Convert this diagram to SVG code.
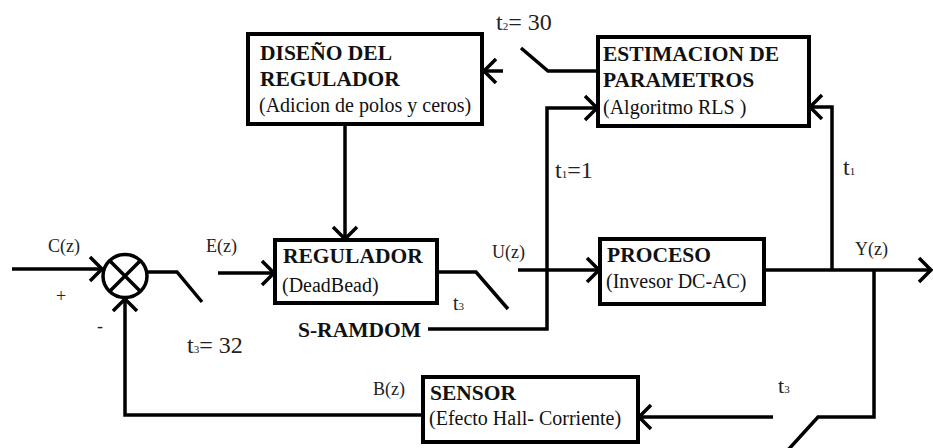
<svg xmlns="http://www.w3.org/2000/svg" width="933" height="448" viewBox="0 0 933 448">
<style>
.box{fill:#fff;stroke:#000;stroke-width:4}
.ln{fill:none;stroke:#000;stroke-width:3.5}
.b{font-family:"Liberation Serif",serif;font-weight:bold;font-size:21.5px;fill:#111}
.r{font-family:"Liberation Serif",serif;font-size:20px;fill:#111}
.lab{font-family:"Liberation Serif",serif;font-size:18px;fill:#222}
.t{font-family:"Liberation Serif",serif;font-size:24px;fill:#222}
.sub{font-size:11px}
</style>
<defs>
<marker id="ch" viewBox="0 0 16 28" refX="14" refY="14" markerWidth="16" markerHeight="28" markerUnits="userSpaceOnUse" orient="auto">
<path d="M2,2 L14,14 L2,26" fill="none" stroke="#000" stroke-width="3.5"/>
</marker>
</defs>
<rect width="933" height="448" fill="#fff"/>
<g id="connectors">
<path class="ln" d="M12,269 L102,269" marker-end="url(#ch)"/>
<path class="ln" d="M147,272 L177,272 L202,302"/>
<path class="ln" d="M218,273 L274,273" marker-end="url(#ch)"/>
<path class="ln" d="M345,124 L345,239" marker-end="url(#ch)"/>
<path class="ln" d="M437,272 L476,272 L508,309"/>
<path class="ln" d="M518,270 L599,270" marker-end="url(#ch)"/>
<path class="ln" d="M428,329 L547,329 L547,108 L597,108" marker-end="url(#ch)"/>
<path class="ln" d="M764,270 L931,270" marker-end="url(#ch)"/>
<path class="ln" d="M832,270 L832,107 L810,107" marker-end="url(#ch)"/>
<path class="ln" d="M598,71 L548,71 L521,48"/>
<path class="ln" d="M503,71 L484,71" marker-end="url(#ch)"/>
<path class="ln" d="M874,270 L874,417 L818,417 L788,450"/>
<path class="ln" d="M773,417 L639,417" marker-end="url(#ch)"/>
<path class="ln" d="M425,415 L125,415 L125,299" marker-end="url(#ch)"/>
</g>
<g id="sum">
<ellipse cx="125" cy="276" rx="22" ry="21.5" fill="none" stroke="#000" stroke-width="3.5"/>
<path class="ln" d="M109.5,260.5 L140.5,291.5 M140.5,260.5 L109.5,291.5"/>
</g>
<g id="diseno">
<rect class="box" x="248" y="34" width="234" height="90"/>
<text class="b" x="260" y="60">DISEÑO DEL</text>
<text class="b" x="260" y="86">REGULADOR</text>
<text class="r" x="259" y="112">(Adicion de polos y ceros)</text>
</g>
<g id="estimacion">
<rect class="box" x="598" y="37" width="211" height="89"/>
<text class="b" x="603" y="61">ESTIMACION DE</text>
<text class="b" x="603" y="87">PARAMETROS</text>
<text class="r" x="603" y="114">(Algoritmo RLS )</text>
</g>
<g id="regulador">
<rect class="box" x="275" y="240" width="162" height="63"/>
<text class="b" x="283" y="263">REGULADOR</text>
<text class="r" x="282" y="292">(DeadBead)</text>
</g>
<g id="proceso">
<rect class="box" x="600" y="239" width="164" height="65"/>
<text class="b" x="607" y="262">PROCESO</text>
<text class="r" x="606" y="288">(Invesor DC-AC)</text>
</g>
<g id="sensor">
<rect class="box" x="423" y="377" width="215" height="65"/>
<text class="b" x="430" y="400">SENSOR</text>
<text class="r" x="429" y="425">(Efecto Hall- Corriente)</text>
</g>
<g id="labels">
<text class="lab" x="48" y="252">C(z)</text>
<text class="lab" x="206" y="252">E(z)</text>
<text class="lab" x="492" y="258">U(z)</text>
<text class="lab" x="855" y="255">Y(z)</text>
<text class="lab" x="373" y="395">B(z)</text>
<text class="lab" x="56" y="302">+</text>
<text class="lab" x="97" y="332">-</text>
<text class="b" x="298" y="337">S-RAMDOM</text>
<text class="t" x="496" y="30">t<tspan class="sub">2</tspan>= 30</text>
<text class="t" x="555" y="178">t<tspan class="sub">1</tspan>=1</text>
<text class="t" x="843" y="175">t<tspan class="sub">1</tspan></text>
<text class="t" x="187" y="353">t<tspan class="sub">3</tspan>= 32</text>
<text class="t" x="453" y="310" style="font-size:20px">t<tspan class="sub">3</tspan></text>
<text class="t" x="778" y="393" style="font-size:22px">t<tspan class="sub">3</tspan></text>
</g>
</svg>
